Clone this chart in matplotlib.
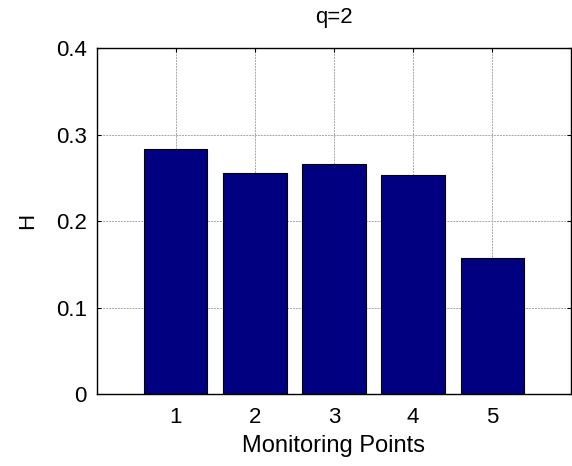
import matplotlib
matplotlib.use("Agg")
import matplotlib.pyplot as plt

points = [1, 2, 3, 4, 5]
H = [0.284, 0.2555, 0.2665, 0.2535, 0.157]
xtick_labels = ["1", "2", "3", "4", "5"]
yticks = [0, 0.1, 0.2, 0.3, 0.4]
ytick_labels = ["0", "0.1", "0.2", "0.3", "0.4"]

plt.rcParams['font.family'] = ['Liberation Sans', 'DejaVu Sans']
fig = plt.figure(figsize=(5.72, 4.66), dpi=100)
ax = fig.add_axes([96.7/572, 1 - 394.3/466, (571.3-96.7)/572, (394.3-48.3)/466])

ax.bar(points, H, width=0.8, color='#000080', edgecolor='black', linewidth=0.8, zorder=3)
ax.set_xlim(0, 6)
ax.set_ylim(0, 0.4)
ax.set_xticks(points)
ax.set_xticklabels(xtick_labels)
ax.set_yticks(yticks)
ax.set_yticklabels(ytick_labels)
ax.grid(True, color='#a8a8a8', linestyle=(0, (2, 1)), linewidth=0.7, zorder=0)
ax.set_axisbelow(True)
ax.tick_params(direction='in', length=3, width=0.8, labelsize=16, top=True, right=True)
ax.tick_params(axis='x', pad=9)
ax.tick_params(axis='y', pad=7)
for s in ax.spines.values():
    s.set_linewidth(1.0)
    s.set_zorder(4)
ax.set_title('q=2', fontsize=16, pad=18)
ax.set_xlabel('Monitoring Points', fontsize=17, labelpad=5)
ax.set_ylabel('H', fontsize=16, labelpad=13)

fig.savefig('out.png', dpi=100)
